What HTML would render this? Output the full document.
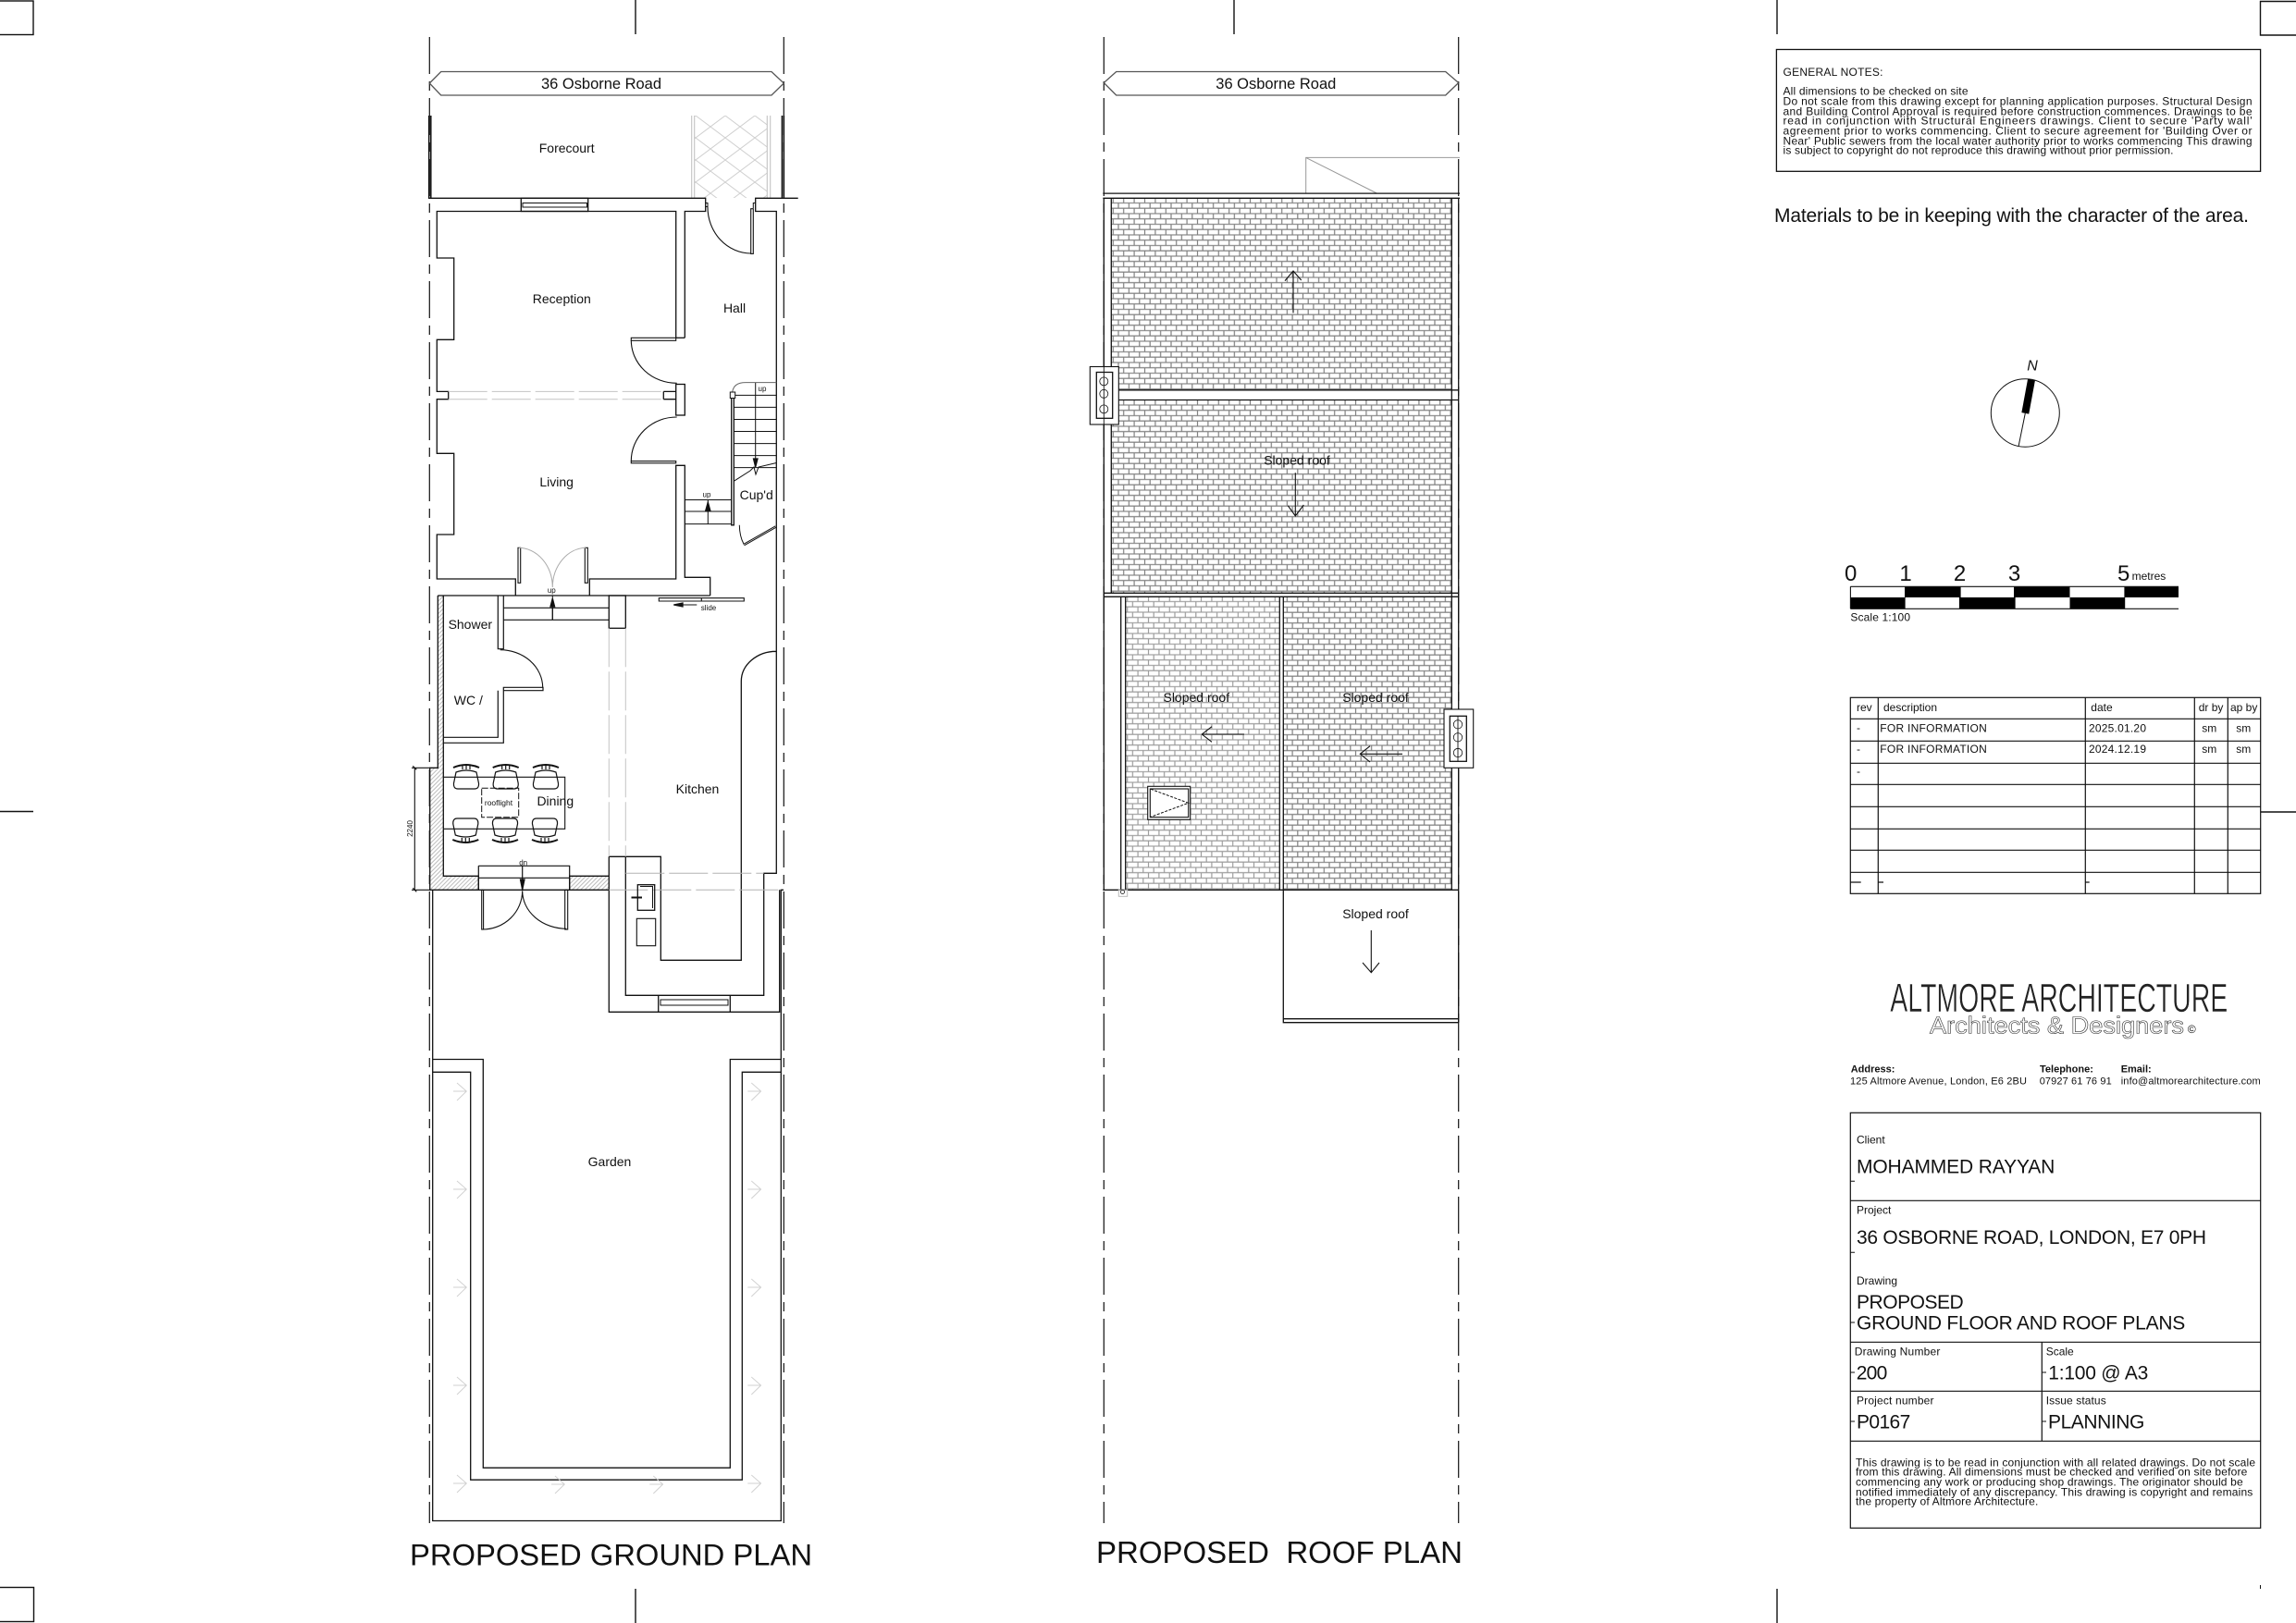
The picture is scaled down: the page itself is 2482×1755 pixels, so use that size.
<!DOCTYPE html>
<html><head><meta charset="utf-8"><title>36 Osborne Road</title>
<style>
html,body{margin:0;padding:0;background:#fff}
svg{display:block}
text{font-family:"Liberation Sans",sans-serif;fill:#111;stroke:none}
.m{text-anchor:middle}
</style></head><body>
<svg xmlns="http://www.w3.org/2000/svg" width="2482" height="1755" viewBox="0 0 2482 1755">
<defs>
<pattern id="brick" width="11.4" height="11.5" patternUnits="userSpaceOnUse" x="1201.3" y="214.3">
<path d="M0 5.2H11.4M0 10.9H11.4M2 0V5.2M7.7 5.2V10.9" stroke="#808080" stroke-width="1.2" fill="none"/>
</pattern>
<pattern id="brickl" width="11.4" height="11.5" patternUnits="userSpaceOnUse" x="1216.7" y="645.3">
<path d="M0 5.2H11.4M0 10.9H11.4M2 0V5.2M7.7 5.2V10.9" stroke="#9c9c9c" stroke-width="1.2" fill="none"/>
</pattern>
<pattern id="hatch" width="3.2" height="3.2" patternUnits="userSpaceOnUse" patternTransform="rotate(-45)">
<path d="M0 1H3.2" stroke="#b4b4b4" stroke-width=".9"/>
</pattern>
<pattern id="lat" width="32" height="24" patternUnits="userSpaceOnUse" x="752" y="125">
<path d="M0 0L32 24M32 0L0 24" stroke="#cfcfcf" stroke-width="1" fill="none"/>
</pattern>
<g id="chair" fill="none" stroke="#111" stroke-width="1.2">
<path d="M-14 4Q0 -2 14 4" stroke-width="2"/>
<path d="M-4 1V6M0 1V6M4 1V6"/>
<path d="M-9 27Q-14 27 -13.500 21L-11 9Q0 5 11 9L13.500 21Q14 27 9 27Z"/>
</g>
<g id="ga" fill="none" stroke="#d0d0d0" stroke-width=".9">
<path d="M0 0H14.300M4 -9L14.300 0L4 10"/>
</g>
</defs>
<rect width="2482" height="1755" fill="#fff"/>

<!-- sheet marks -->
<g fill="none" stroke="#111" stroke-width="1.400">
<rect x="-2" y="1" width="38" height="36.500"/>
<path d="M687 0V37M1334 0V37M1921 0V37"/>
<path d="M2482 1.500H2443.500V38H2482"/>
<path d="M0 877.500H36M2444 878H2482"/>
<rect x="-2" y="1716.500" width="38.500" height="37"/>
<path d="M687 1718V1755M1921 1718V1755"/>
<path d="M2443.500 1714V1718" stroke-width="1"/>
</g>

<!-- GROUND PLAN -->
<g fill="none" stroke="#111" stroke-width="1.300">
<path fill="url(#hatch)" stroke="none" d="M473.300 644H479.300V947.300H517.300V962.300H464.700V830.300H473.300Z"/>
<rect x="615.700" y="947.300" width="42.600" height="15" fill="url(#hatch)" stroke="none"/>

<path d="M464.300 40V1647M847.300 40V1647" stroke-dasharray="40 8 10 8" stroke-width="1.200"/>
<path fill="#fff" stroke="#555" d="M464.300 90L476.700 77.500H834L847.300 90L834 103H476.700Z"/>

<!-- forecourt -->
<rect x="750.700" y="125" width="78.600" height="89" fill="url(#lat)" stroke="none"/>
<path d="M747.700 125V214M750.700 125V214M829.300 125V214M832.700 125V214" stroke="#c4c4c4" stroke-width="1.100"/>
<path d="M463.700 125V214M465.800 125V214M845.400 125V214M847.400 125V214" stroke-width="1.500"/>

<!-- top walls -->
<path d="M463 214.300H762.700V228.500H740.300V365.300M730.700 365.300V228.500H472.300V279H490.700V367.300H472.300V423.400H484.700V431.700H472.300V490.300H490.700V578H472.300V626H557.300V644"/>
<path d="M862.700 214.300H816.700V228.500H839.300V944.300H825.700V1076.300H676.300V926.300M658.300 926.300H714.300V1038.300H801.300V736.700A38 32.500 0 0 1 839.300 704.300"/>
<rect x="563.300" y="214.300" width="72.400" height="14.200"/>
<path d="M565 219.500H634.500V224H565Z" stroke-width="1"/>
<path d="M730.700 365.300H740.300"/>
<path d="M717.300 423.400H730.700M717.300 431.700H730.700M717.300 423.400V431.700"/>
<rect x="730.700" y="415.500" width="9.600" height="33.500"/>
<path d="M637.300 644V626H730.700V503.300H740.300V624.300H767.700V644"/>
<path d="M473.300 644H767.700"/>
<path d="M484.700 423.400H717.300M484.700 431.700H717.300" stroke="#c4c4c4" stroke-dasharray="42 5" stroke-width="1"/>

<!-- front door -->
<rect x="811.700" y="225.700" width="2.600" height="48.700" stroke-width="1.100"/>
<path d="M765 223.700A47 50 0 0 0 811.700 274" stroke-width="1.100"/>
<path d="M762.700 219.500H765V223.500H762.700M816.700 219.500H814.300V225" stroke-width="1"/>

<!-- reception & living doors -->
<rect x="682.300" y="365.300" width="48.400" height="3" stroke-width="1.100"/>
<path d="M682.300 368A49 46.500 0 0 0 731.700 414.300" stroke-width="1.100"/>
<rect x="682.300" y="498.600" width="48.400" height="2.200" stroke-width="1.100"/>
<path d="M682.300 498.600A49 47.500 0 0 1 731.700 451" stroke-width="1.100"/>

<!-- stairs -->
<path d="M790.700 430V567.800H793.300V430"/>
<path d="M793.300 440.400H839.300M793.300 453.500H839.300M793.300 466.500H839.300M793.300 479.600H839.300M793.300 492.600H839.300M793.300 505.600H839.300M793.300 427.400H839.300" stroke-width="1"/>
<path d="M816.700 413.600V504.500" stroke-width="1"/>
<path d="M791.700 424Q793 413.600 806 413.600H839.300" stroke="#666" stroke-width="1"/>
<rect x="789.300" y="424" width="5.400" height="6.500" fill="#fff" stroke-width="1"/>
<path d="M793.300 520.300L811 509L815 505L817 513L820 505L839.300 500.500" stroke-width="1"/>
<path d="M816.700 505L814.500 496H819Z" fill="#111"/>
<path d="M799.300 567.800Q799.500 580 804 588.300L838.300 568.800M804.500 589.800L838.800 570.300" stroke-width="1"/>
<path d="M740.300 540.500H790.700M740.300 553H790.700M740.300 566.600H790.700M765.300 540.500V566.600" stroke-width="1"/>
<path d="M765.300 543L762.800 552H767.800Z" fill="#111"/>

<!-- living french doors -->
<path d="M560 592.300V630.300H562.700V592.300ZM632.300 592.300V630.300H635.300V592.300Z" stroke-width="1.100"/>
<path d="M560.700 592.300A37 43 0 0 1 597.300 635A37 43 0 0 1 633.300 592.300" stroke="#aaa" stroke-width="1"/>

<!-- rear section -->
<path d="M473.300 644V830.300H464.700V962.300H658.300M479.300 644V947.300H517.300V962.300M615.700 962.300V947.300H658.300"/>
<path d="M538.300 644V701.700H544.300V644M544.300 657.300H658.300M544.300 670.300H658.300M597.300 657.300V670.300" stroke-width="1.200"/>
<path d="M597.300 644V670.300" stroke-width="1"/>
<path d="M597.300 647L595 656H599.600Z" fill="#111"/>
<path d="M540.700 702.700A46 41 0 0 1 586.700 743.300" stroke-width="1.100"/>
<path d="M544.300 743.300H587V746.700H544.300ZM538.300 746.700V797.300H479.300M544.300 746.700V803.300H479.300" stroke-width="1.200"/>
<rect x="658.300" y="644" width="18" height="35.300"/>
<path d="M658.300 679.300V926.300M676.300 679.300V926.300" stroke="#c4c4c4" stroke-dasharray="42 5" stroke-width="1"/>
<path d="M658.300 926.300V1094.300H842.700V962.300M711.700 1076.300V1094.300M789.300 1076.300V1094.300"/>
<path d="M714 1081H787V1087H714Z" stroke-width="1"/>
<path d="M676.300 944.300H825.700M658.300 962.300H842.700" stroke="#b4b4b4" stroke-dasharray="42 5" stroke-width="1"/>
<rect x="689.300" y="956.700" width="18.400" height="27.600"/>
<path d="M692 958.500H705.500V982" stroke-width="1"/>
<path d="M682.500 970.500H694" stroke-width="2"/>
<rect x="688.300" y="993.300" width="20.400" height="29.400" stroke-width="1.100"/>

<!-- table -->
<path d="M479.300 840.300H610.700V896.300H479.300" stroke-width="1.100"/>
<rect x="520.700" y="852.300" width="40" height="31.400" stroke-dasharray="7 2" stroke-width="1" fill="#fff"/>

<!-- dimension -->
<path d="M448.300 830.300V962.300M445 830.300H464.700M445 962.300H464.700M446.300 828.300L450.300 832.300M446.300 960.300L450.300 964.300" stroke-width="1.100"/>

<!-- rear doors -->
<path d="M517.300 936.300H615.700V962.300M517.300 936.300V962.300M517.300 949.300H615.700M564.700 936.300V962.300" stroke-width="1.200"/>
<path d="M564.700 962L562.500 951H567Z" fill="#111"/>
<rect x="520.700" y="962.300" width="1.900" height="42.700" stroke-width="1.100"/>
<rect x="610.700" y="962.300" width="3" height="42.700" stroke-width="1.100"/>
<path d="M521.700 1005A43 42 0 0 0 564.700 963.300A48 41 0 0 0 612.300 1004.300" stroke-width="1.100"/>

<!-- slide -->
<path d="M712.300 646.700H804.300V650H712.300ZM758.300 646.700V650" stroke-width="1.100"/>
<path d="M728.300 654H753.300" stroke-width="1"/>
<path d="M728.300 654L738 652V656Z" fill="#111"/>

<!-- garden -->
<path d="M467.700 962.300V1644.500H844.300V962.300H847"/>
<path d="M467.700 1145.500H522.300V1587.200H789.300V1145.500H844.300"/>
<path d="M467.700 1159.300H508.700V1600.200H802.300V1159.300H844.300"/>
</g>
<use href="#chair" x="504" y="826"/><use href="#chair" x="546.700" y="826"/><use href="#chair" x="590" y="826"/>
<use href="#chair" transform="translate(503.300 912) scale(1 -1)"/><use href="#chair" transform="translate(546 912) scale(1 -1)"/><use href="#chair" transform="translate(589 912) scale(1 -1)"/>
<use href="#ga" x="490" y="1180"/><use href="#ga" x="490" y="1286"/><use href="#ga" x="490" y="1392"/><use href="#ga" x="490" y="1498"/><use href="#ga" x="490" y="1604"/>
<use href="#ga" x="808.300" y="1180"/><use href="#ga" x="808.300" y="1286"/><use href="#ga" x="808.300" y="1392"/><use href="#ga" x="808.300" y="1498"/><use href="#ga" x="808.300" y="1604"/>
<use href="#ga" x="596" y="1605"/><use href="#ga" x="702.300" y="1605"/>

<text x="650" y="96" class="m" font-size="16.500" textLength="130">36 Osborne Road</text>
<g font-size="14">
<text x="612.700" y="165" class="m">Forecourt</text>
<text x="607.300" y="328" class="m">Reception</text>
<text x="794" y="338" class="m">Hall</text>
<text x="601.700" y="526" class="m">Living</text>
<text x="817.700" y="540" class="m">Cup'd</text>
<text x="508.300" y="680" class="m">Shower</text>
<text x="506.300" y="762" class="m">WC /</text>
<text x="600.300" y="871" class="m">Dining</text>
<text x="754" y="858" class="m">Kitchen</text>
<text x="659" y="1261" class="m">Garden</text>
</g>
<g font-size="8">
<text x="824" y="423" class="m">up</text>
<text x="764" y="537.500" class="m">up</text>
<text x="596.300" y="641" class="m">up</text>
<text x="565.700" y="935.500" class="m">dn</text>
<text x="766" y="660" class="m">slide</text>
<text x="539" y="871" class="m" font-size="8.500">rooflight</text>
<text transform="translate(446 896) rotate(-90)" class="m">2240</text>
</g>
<text x="443" y="1692.300" font-size="32.800" textLength="435">PROPOSED GROUND PLAN</text>

<!-- ROOF PLAN -->
<g fill="none" stroke="#111" stroke-width="1.300">
<path d="M1193.300 40V1647M1576.700 40V1647" stroke-dasharray="40 8 10 8" stroke-width="1.200"/>
<path fill="#fff" stroke="#555" d="M1193.300 89.500L1206.700 77.500H1562.700L1576.700 89.500L1562.700 103H1206.700Z"/>
<path d="M1411.700 209V170.400H1578M1411.700 170.400L1488.300 209" stroke="#999" stroke-width="1"/>
<rect x="1201.300" y="214.300" width="368" height="207.500" fill="url(#brick)" stroke="none"/>
<rect x="1201.300" y="432.500" width="368" height="208.800" fill="url(#brick)" stroke="none"/>
<rect x="1216.700" y="645.300" width="166.600" height="317" fill="url(#brickl)" stroke="none"/>
<rect x="1387.300" y="645.300" width="182" height="317" fill="url(#brick)" stroke="none"/>
<path d="M1192.300 209.100H1578M1192.300 214.300H1578"/>
<path d="M1193.300 214.300V962.300M1576.700 214.300V1105.700M1201.300 214.300V641.300M1569.300 214.300V962.300"/>
<path d="M1201.300 421.800H1576.700M1201.300 432.500H1576.700"/>
<path d="M1193.300 641.300H1576.700M1193.300 645.300H1576.700"/>
<path d="M1211.700 645.300V962.300M1216.700 645.300V962.300M1383.300 645.300V962.300M1387.300 645.300V1105.700H1576.700M1387.300 1101.700H1576.700M1192.300 962.300H1576.700"/>
<rect x="1209.300" y="962.300" width="9.400" height="7" stroke="#bbb" stroke-width="1"/>
<circle cx="1213.500" cy="964.500" r="2" stroke-width=".8"/>
<rect x="1178.300" y="396.500" width="31" height="62.500" fill="#fff" stroke-width="1.100"/>
<rect x="1185.300" y="402.500" width="17.400" height="49.800"/>
<path d="M1193.300 396.500V459" stroke-width=".9"/>
<circle cx="1193.300" cy="412.400" r="4.500" stroke-width=".8"/><circle cx="1193.300" cy="425.800" r="4.500" stroke-width=".8"/><circle cx="1193.300" cy="442.400" r="4.500" stroke-width=".8"/>
<rect x="1561" y="767" width="31.700" height="63.300" fill="#fff" stroke-width="1.100"/>
<rect x="1567.300" y="774.300" width="18" height="49"/>
<path d="M1576 774.300V823.300" stroke-width=".9"/>
<circle cx="1576" cy="783.300" r="4.700" stroke-width=".8"/><circle cx="1576" cy="797.300" r="4.700" stroke-width=".8"/><circle cx="1576" cy="814" r="4.700" stroke-width=".8"/>
<rect x="1240.700" y="850.300" width="46" height="36" fill="#fff" stroke-width="1.100"/>
<rect x="1243.300" y="853" width="41.400" height="30.700" stroke-width="1.100"/>
<path d="M1244 853.300L1284.700 868.300L1244 883.300" stroke-dasharray="3 1.500" stroke-width="1"/>
<path d="M1398 338.400V293M1389 303.600L1398 293L1406.700 303" stroke-width="1.100"/>
<path d="M1400.300 511.200V557.900M1392.300 546.800L1400.300 557.900L1409.300 546" stroke-width="1.100"/>
<path d="M1345 794H1299.300M1310 785.700L1299.300 794L1310 802.300" stroke-width="1.100"/>
<path d="M1516 815.300H1470.300M1481 806.700L1470.300 815.300L1481 824" stroke-width="1.100"/>
<path d="M1482.300 1006V1051.700M1473 1041L1482.300 1051.700L1491 1041" stroke-width="1.100"/>
</g>
<text x="1379.300" y="96" class="m" font-size="16.500" textLength="130">36 Osborne Road</text>
<g font-size="14">
<text x="1402" y="502.500" class="m">Sloped roof</text>
<text x="1293.300" y="759" class="m">Sloped roof</text>
<text x="1487" y="759" class="m">Sloped roof</text>
<text x="1487" y="993" class="m">Sloped roof</text>
</g>
<text x="1185" y="1690" font-size="33" textLength="396" xml:space="preserve">PROPOSED  ROOF PLAN</text>
<rect x="1200" y="1300" width="370" height="60" fill="#fff"/>

<!-- NOTES -->
<rect x="1920.400" y="53.500" width="523.200" height="131.800" fill="none" stroke="#111" stroke-width="1.300"/>
<g font-size="12">
<text x="1927.500" y="82" textLength="108">GENERAL NOTES:</text>
<text x="1927.500" y="102.400" textLength="200">All dimensions to be checked on site</text>
<text x="1927.500" y="113.500" textLength="507">Do not scale from this drawing except for planning application purposes. Structural Design</text>
<text x="1927.500" y="124.500" textLength="507">and Building Control Approval is required before construction commences. Drawings to be</text>
<text x="1927.500" y="134.700" textLength="507">read in conjunction with Structural Engineers drawings. Client to secure 'Party wall'</text>
<text x="1927.500" y="145.700" textLength="507">agreement prior to works commencing. Client to secure agreement for 'Building Over or</text>
<text x="1927.500" y="156.300" textLength="507">Near' Public sewers from the local water authority prior to works commencing This drawing</text>
<text x="1927.500" y="166.500" textLength="422">is subject to copyright do not reproduce this drawing without prior permission.</text>
</g>
<text x="1918" y="240" font-size="21" textLength="513">Materials to be in keeping with the character of the area.</text>

<!-- NORTH -->
<ellipse cx="2189.300" cy="446.500" rx="37" ry="36.700" fill="none" stroke="#111" stroke-width="1"/>
<path d="M2196 410.600L2189.300 446.900" stroke="#000" stroke-width="8"/>
<path d="M2189.300 446.900L2182 482.900" stroke="#111" stroke-width="1"/>
<text x="2197" y="400.400" class="m" font-size="16" font-style="italic">N</text>

<!-- SCALE BAR -->
<g fill="#000">
<rect x="2059" y="634.300" width="60.600" height="11.700"/><rect x="2177" y="634.300" width="60.500" height="11.700"/><rect x="2296.400" y="634.300" width="58.600" height="11.700"/>
<rect x="2000.400" y="646" width="59.200" height="12.300"/><rect x="2117.900" y="646" width="60.700" height="12.300"/><rect x="2237.500" y="646" width="59.700" height="12.300"/>
</g>
<path d="M2000.400 634.300H2355M2000.400 658.300H2355M2000.400 634.300V658.300" fill="none" stroke="#111" stroke-width="1.100"/>
<g font-size="24">
<text x="2000.700" y="628" class="m">0</text><text x="2060" y="628" class="m">1</text><text x="2118.600" y="628" class="m">2</text><text x="2177.500" y="628" class="m">3</text><text x="2295.700" y="628" class="m">5</text>
</g>
<text x="2304.600" y="627" font-size="12">metres</text>
<text x="2000.400" y="671.400" font-size="12" textLength="64.600">Scale 1:100</text>

<!-- REV TABLE -->
<g fill="none" stroke="#111" stroke-width="1.200">
<rect x="2000.300" y="754.300" width="443.400" height="212"/>
<path d="M2030.300 754.300V966.300M2254.300 754.300V966.300M2372.300 754.300V966.300M2408.300 754.300V966.300"/>
<path d="M2000.300 777.300H2443.700M2000.300 801.300H2443.700M2000.300 825.300H2443.700M2000.300 848.300H2443.700M2000.300 872.300H2443.700M2000.300 896.300H2443.700M2000.300 919.300H2443.700M2000.300 943.300H2443.700"/>
<path d="M2000.300 954H2011.700M2030.300 954H2036M2254.300 954H2258.700"/>
</g>
<g font-size="12">
<text x="2007" y="769">rev</text><text x="2036" y="769">description</text><text x="2260.300" y="769">date</text><text x="2376.700" y="769">dr by</text><text x="2411" y="769">ap by</text>
<text x="2007" y="791">-</text><text x="2032.300" y="791.300" textLength="115.500">FOR INFORMATION</text><text x="2258" y="791.300" textLength="62">2025.01.20</text><text x="2380.300" y="791.300">sm</text><text x="2417.300" y="791.300">sm</text>
<text x="2007" y="814">-</text><text x="2032.300" y="814" textLength="115.500">FOR INFORMATION</text><text x="2258" y="814" textLength="62">2024.12.19</text><text x="2380.300" y="814">sm</text><text x="2417.300" y="814">sm</text>
<text x="2007" y="838">-</text>
</g>

<!-- LOGO -->
<text x="2043.300" y="1094" font-size="44" textLength="365" lengthAdjust="spacingAndGlyphs" style="fill:#222;stroke:#fff;stroke-width:.5">ALTMORE ARCHITECTURE</text>
<text x="2086" y="1117.700" font-size="26" textLength="275" lengthAdjust="spacingAndGlyphs" style="fill:#fff;stroke:#333;stroke-width:.6">Architects &amp; Designers</text>
<text x="2369.300" y="1117" font-size="12" class="m">©</text>

<g font-size="11">
<text x="2000.700" y="1159.300" font-weight="bold">Address:</text>
<text x="2205" y="1159.300" font-weight="bold">Telephone:</text>
<text x="2292.700" y="1159.300" font-weight="bold">Email:</text>
<text x="2000" y="1172.300" textLength="191">125 Altmore Avenue, London, E6 2BU</text>
<text x="2204.700" y="1172.300" textLength="78">07927 61 76 91</text>
<text x="2292.700" y="1172.300" textLength="151">info@altmorearchitecture.com</text>
</g>

<!-- TITLE BLOCK -->
<g fill="none" stroke="#111" stroke-width="1.200">
<rect x="2000.300" y="1203.300" width="443.400" height="449"/>
<path d="M2000.300 1298.300H2443.700M2000.300 1451.300H2443.700M2000.300 1504.300H2443.700M2000.300 1558.300H2443.700M2207.300 1451.300V1558.300"/>
<path d="M2000.300 1277.300H2005M2000.300 1354.300H2005M2000.300 1430H2005M2000.300 1484H2005M2207.300 1484H2212M2000.300 1537H2005M2207.300 1537H2212" stroke-width="1"/>
</g>
<g font-size="12">
<text x="2007" y="1236.700">Client</text>
<text x="2007" y="1312.700">Project</text>
<text x="2007" y="1389">Drawing</text>
<text x="2004.700" y="1465.700" textLength="92.700">Drawing Number</text>
<text x="2211.700" y="1465.700">Scale</text>
<text x="2007" y="1518.700" textLength="83.500">Project number</text>
<text x="2211.700" y="1518.700" textLength="65">Issue status</text>
</g>
<g font-size="21">
<text x="2007" y="1268.700" textLength="214.300">MOHAMMED RAYYAN</text>
<text x="2007" y="1345" textLength="378">36 OSBORNE ROAD, LONDON, E7 0PH</text>
<text x="2007" y="1415" textLength="115.700">PROPOSED</text>
<text x="2007" y="1437.700" textLength="355.300">GROUND FLOOR AND ROOF PLANS</text>
<text x="2006.700" y="1491.700" textLength="33.600">200</text>
<text x="2214.300" y="1491.700" textLength="108">1:100 @ A3</text>
<text x="2007" y="1544.300" textLength="58.300">P0167</text>
<text x="2214" y="1544.300" textLength="104.300">PLANNING</text>
</g>
<g font-size="12">
<text x="2006" y="1585.300" textLength="432">This drawing is to be read in conjunction with all related drawings. Do not scale</text>
<text x="2006" y="1595.700" textLength="423.300">from this drawing. All dimensions must be checked and verified on site before</text>
<text x="2006" y="1606.700" textLength="418.700">commencing any work or producing shop drawings. The originator should be</text>
<text x="2006" y="1617.700" textLength="429.300">notified immediately of any discrepancy. This drawing is copyright and remains</text>
<text x="2006" y="1627.700" textLength="197.300">the property of Altmore Architecture.</text>
</g>
</svg>
</body></html>
